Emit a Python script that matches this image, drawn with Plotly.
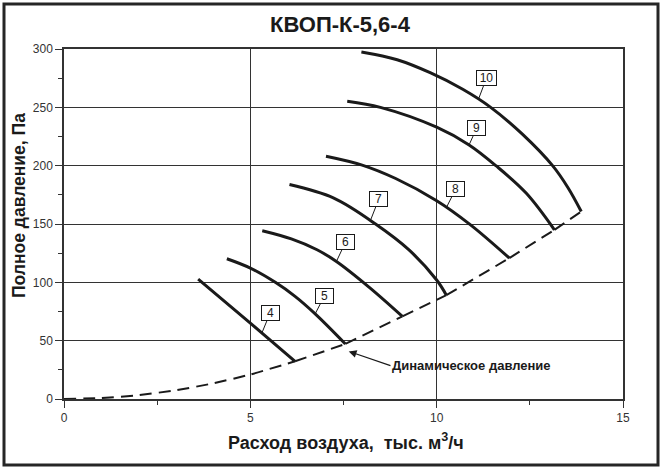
import numpy as np
import plotly.graph_objects as go

# ---------------- data ----------------
x_range = [0, 15]
y_range = [0, 300]
x_ticks = [0, 5, 10, 15]
y_ticks = [0, 50, 100, 150, 200, 250, 300]

curve_labels = ["4", "5", "6", "7", "8", "9", "10"]
c4_x = [3.60, 5.00, 6.20]
c4_y = [102.8, 65.0, 32.3]
c5_x = [4.37, 5.00, 5.67, 6.20, 6.74, 7.55]
c5_y = [120.2, 112.2, 100.0, 88.0, 73.0, 47.2]
c6_x = [5.32, 6.10, 6.79, 7.31, 8.20, 9.08]
c6_y = [144.2, 137.2, 127.9, 117.9, 95.5, 70.8]
c7_x = [6.05, 7.24, 8.36, 9.25, 10.00, 10.26]
c7_y = [183.8, 172.2, 150.0, 128.0, 102.0, 89.0]
c8_x = [7.03, 8.00, 8.90, 10.00, 10.90, 11.95]
c8_y = [208.1, 200.5, 189.0, 170.0, 149.5, 120.8]
c9_x = [7.60, 8.49, 10.00, 10.87, 11.59, 12.40, 13.16]
c9_y = [255.2, 250.0, 233.0, 217.8, 200.0, 176.5, 145.0]
c10_x = [7.98, 8.94, 9.84, 10.70, 11.45, 12.30, 13.11, 13.52, 13.88]
c10_y = [297.4, 290.8, 279.5, 265.5, 250.0, 227.0, 200.0, 181.3, 160.7]

# dynamic pressure (dashed)
dyn_x = [0, 1, 2, 3, 4, 5, 6.20, 7.55, 9.08, 10.26, 11.95, 13.16, 13.88]
dyn_y = [0, 0.8, 3.3, 7.5, 13.4, 21.0, 32.3, 47.2, 70.8, 89.0, 120.8, 145.0, 160.7]
dyn_breaks = [6, 7, 8, 9, 10, 11]  # indices where a new dashed segment starts

# label boxes (centre) and where their leaders touch the curves
lab_x = [5.53, 6.99, 7.55, 8.45, 10.51, 11.08, 11.34]
lab_y = [73.7, 88.5, 134.2, 171.6, 179.9, 232.6, 275.4]
lead_x = [5.31, 6.74, 7.31, 8.22, 10.26, 10.87, 11.12]

dyn_label = "Динамическое давление"
dyn_arrow_tip = (7.64, 40.8)
dyn_text_pos = (8.76, 28.6)

title = "КВОП-К-5,6-4"
x_title = "Расход воздуха,  тыс. м<sup>3</sup>/ч"
y_title = "Полное давление, Па"

curves_x = [c4_x, c5_x, c6_x, c7_x, c8_x, c9_x, c10_x]
curves_y = [c4_y, c5_y, c6_y, c7_y, c8_y, c9_y, c10_y]

# ---------------- layout geometry ----------------
W, H = 662, 470
ML, MR, MT, MB = 64, 39, 49, 71
PW, PH = W - ML - MR, H - MT - MB


def px_x(p):
    return (p - ML) / PW


def px_y(p):
    return (H - MB - p) / PH


FONT = "Liberation Sans, Arial, sans-serif"
INK = "#1a1a1a"

fig = go.Figure()

# fan curves
for cx, cy in zip(curves_x, curves_y):
    fig.add_trace(go.Scatter(x=cx, y=cy, mode="lines",
                             line=dict(color=INK, width=3, shape="spline", smoothing=1.0),
                             hoverinfo="skip", showlegend=False))

# dynamic-pressure dashed line, segment by segment
starts = [0] + dyn_breaks
ends = dyn_breaks + [len(dyn_x) - 1]
for s, e in zip(starts, ends):
    fig.add_trace(go.Scatter(x=dyn_x[s:e + 1], y=dyn_y[s:e + 1], mode="lines",
                             line=dict(color=INK, width=2, dash="12px,7px",
                                       shape="spline", smoothing=0.6),
                             hoverinfo="skip", showlegend=False))

annotations = []
for name, bx, by, lx, cx, cy in zip(curve_labels, lab_x, lab_y, lead_x, curves_x, curves_y):
    ly = float(np.interp(lx, cx, cy))
    annotations.append(dict(
        x=lx, y=ly, xref="x", yref="y", ax=bx, ay=by, axref="x", ayref="y",
        text=name, showarrow=True, arrowhead=0, arrowwidth=1, arrowcolor=INK,
        standoff=0, startstandoff=0,
        font=dict(family=FONT, size=12, color=INK),
        bgcolor="white", bordercolor=INK, borderwidth=1, borderpad=1,
        width=15 if len(name) == 1 else 17, height=12))

annotations.append(dict(
    x=dyn_arrow_tip[0], y=dyn_arrow_tip[1], xref="x", yref="y",
    ax=dyn_text_pos[0], ay=dyn_text_pos[1], axref="x", ayref="y",
    text="<b>" + dyn_label + "</b>", xanchor="left", yanchor="middle",
    showarrow=True, arrowhead=2, arrowsize=1.3, arrowwidth=1.2, arrowcolor=INK,
    standoff=0, font=dict(family=FONT, size=13, color=INK)))

annotations.append(dict(
    x=px_x(340), y=px_y(24), xref="paper", yref="paper", showarrow=False,
    text="<b>" + title + "</b>", xanchor="center", yanchor="middle",
    font=dict(family=FONT, size=22, color=INK)))
annotations.append(dict(
    x=px_x(346), y=px_y(441), xref="paper", yref="paper", showarrow=False,
    text="<b>" + x_title + "</b>", xanchor="center", yanchor="middle",
    font=dict(family=FONT, size=18, color=INK)))
annotations.append(dict(
    x=px_x(19), y=px_y(206), xref="paper", yref="paper", showarrow=False,
    text="<b>" + y_title + "</b>", textangle=-90, xanchor="center", yanchor="middle",
    font=dict(family=FONT, size=17.5, color=INK)))

shapes = [dict(type="rect", xref="paper", yref="paper",
               x0=px_x(4), x1=px_x(658), y0=px_y(465), y1=px_y(4),
               line=dict(color="#262626", width=3), fillcolor="rgba(0,0,0,0)", layer="below")]

axis_common = dict(showline=True, mirror=True, linecolor="#333333", linewidth=1.5,
                   showgrid=True, gridcolor="#333333", gridwidth=1.3, zeroline=False,
                   ticks="outside", tickcolor="#333333", ticklen=7, tickwidth=1,
                   tickfont=dict(family=FONT, size=12, color="#333333"),
                   fixedrange=True)

fig.update_xaxes(range=x_range, tickvals=x_ticks, ticktext=[str(v) for v in x_ticks],
                 minor=dict(dtick=2.5, tick0=0, ticks="outside", ticklen=4,
                            tickcolor="#333333", showgrid=False),
                 **axis_common)
fig.update_yaxes(range=y_range, tickvals=y_ticks, ticktext=[str(v) for v in y_ticks],
                 minor=dict(dtick=25, tick0=0, ticks="outside", ticklen=4,
                            tickcolor="#333333", showgrid=False),
                 **axis_common)

fig.update_layout(width=W, height=H, margin=dict(l=ML, r=MR, t=MT, b=MB),
                  paper_bgcolor="white", plot_bgcolor="white",
                  annotations=annotations, shapes=shapes, showlegend=False)

fig.write_html("out.html")
